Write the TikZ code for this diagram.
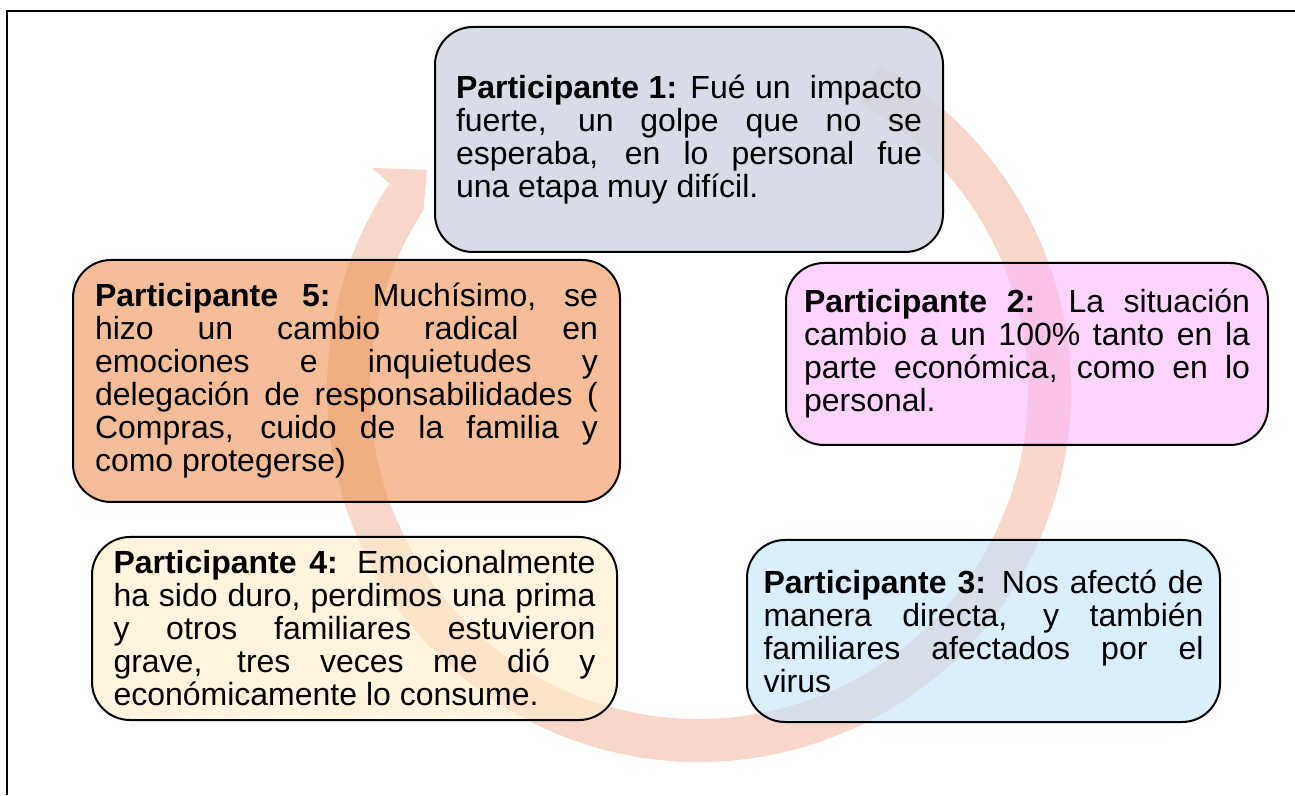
\documentclass[tikz,border=0pt]{standalone}
\usepackage{fontspec}
\setmainfont{Liberation Sans}
\usetikzlibrary{positioning}
\definecolor{bandpeach}{RGB}{247,215,204}
\definecolor{fillone}{RGB}{209,214,226}
\definecolor{filltwo}{RGB}{252,183,250}
\definecolor{fillthree}{RGB}{195,227,250}
\definecolor{fillfour}{RGB}{255,238,200}
\definecolor{fillfive}{RGB}{240,147,83}
\tolerance=10000
\hyphenpenalty=10000

\begin{document}
\begin{tikzpicture}[x=1pt, y=1pt,
    partbox/.style={rectangle, draw, line width=2pt, rounded corners=38pt, inner sep=0pt, fill opacity=0.6, text opacity=1, align=justify, font=\fontsize{32}{33}\selectfont}
]
\useasboundingbox (0,0) rectangle (1295,795);

% Frame
\draw[line width=1.7pt] (7,0) -- (7,784) -- (1295,784);

% Circular arrow
\fill[bandpeach, shift={(699,405)}] (61:372) arc[start angle=61, end angle=-213.7, radius=372]
    -- (-214.2:395) -- (-219:350) -- (-212.8:328) -- (-212.8:329)
    arc[start angle=-212.8, end angle=61, radius=329] -- cycle;

% Participants
\node[partbox, fill=fillone, fill opacity=0.85, minimum width=508pt, minimum height=225pt, text width=466pt] (part1) at (689,655.5) {\textbf{Participante 1:} Fué un\ \ impacto\linebreak fuerte, un golpe que no se\linebreak esperaba, en lo personal fue\linebreak una etapa muy difícil.};
\node[partbox, fill=filltwo, minimum width=482pt, minimum height=182pt, text width=446pt] (part2) at (1027,441) {\textbf{Participante 2:} La situación\linebreak cambio a un 100\% tanto en la\linebreak parte económica, como en lo\linebreak personal.};
\node[partbox, fill=fillthree, minimum width=473pt, minimum height=182pt, text width=440pt] (part3) at (983.5,164) {\textbf{Participante 3:} Nos afectó de\linebreak manera directa, y también\linebreak familiares afectados por el\linebreak virus};
\node[partbox, fill=fillfour, minimum width=525pt, minimum height=183pt, text width=482pt] (part4) at (354.5,166.5) {\textbf{Participante 4:} Emocionalmente\linebreak ha sido duro, perdimos una prima\linebreak y otros familiares estuvieron\linebreak grave, tres veces me dió y\linebreak económicamente lo consume.};
\node[partbox, fill=fillfive, minimum width=547pt, minimum height=242pt, text width=503pt] (part5) at (346.5,414) {\textbf{Participante 5:} Muchísimo, se\linebreak hizo un cambio radical en\linebreak emociones e inquietudes y\linebreak delegación de responsabilidades (\linebreak Compras, cuido de la familia y\linebreak como protegerse)};

\end{tikzpicture}
\end{document}
